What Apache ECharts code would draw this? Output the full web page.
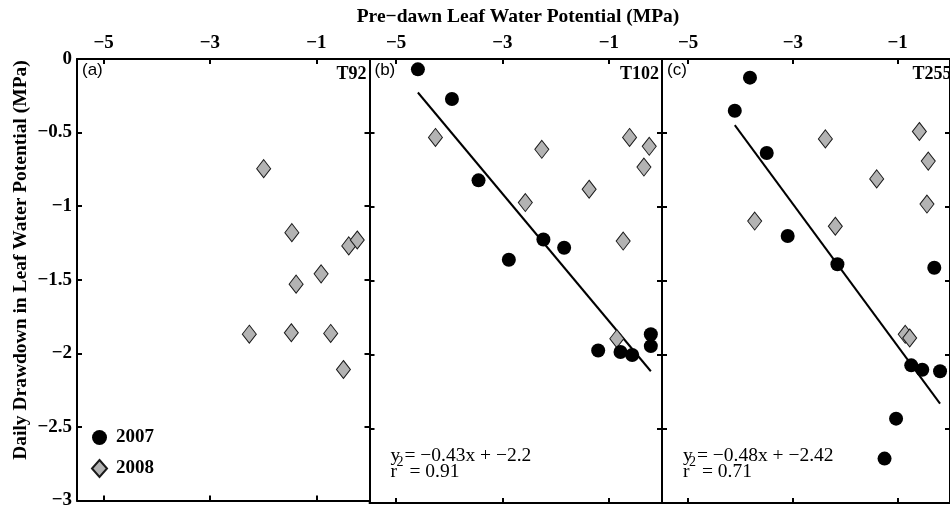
<!DOCTYPE html>
<html>
<head>
<meta charset="utf-8">
<script src="https://cdn.jsdelivr.net/npm/echarts@6/dist/echarts.min.js"></script>
<style>html,body{margin:0;padding:0;background:#fff;}#c{width:950px;height:510px;}</style>
</head>
<body>
<div id="c"></div>
<script>
// ---- data ----
const panelNames = ['(a)', '(b)', '(c)'];
const siteNames = ['T92', 'T102', 'T255'];
const xTickValues = [-5, -3, -1];
const yTickValues = [0, -0.5, -1, -1.5, -2, -2.5, -3];

const a2007x = [];
const a2007y = [];
const a2008x = [-1.99, -1.46, -0.39, -0.23, -0.91, -1.38, -2.26, -1.47, -0.73, -0.49];
const a2008y = [-0.745, -1.18, -1.27, -1.23, -1.46, -1.53, -1.87, -1.86, -1.865, -2.11];

const b2007x = [-4.59, -3.95, -3.45, -2.88, -2.23, -1.84, -1.20, -0.78, -0.56, -0.21, -0.21];
const b2007y = [-0.07, -0.27, -0.82, -1.356, -1.22, -1.275, -1.97, -1.98, -2.0, -1.86, -1.94];
const b2008x = [-4.26, -2.26, -0.61, -0.24, -0.34, -1.37, -2.57, -0.73, -0.85];
const b2008y = [-0.53, -0.61, -0.53, -0.59, -0.73, -0.88, -0.97, -1.23, -1.89];

const c2007x = [-3.82, -4.11, -3.50, -3.10, -2.15, -0.30, -0.74, -0.53, -0.19, -1.03, -1.25];
const c2007y = [-0.126, -0.35, -0.635, -1.196, -1.387, -1.41, -2.07, -2.10, -2.11, -2.43, -2.70];
const c2008x = [-3.73, -2.38, -2.19, -1.40, -0.585, -0.415, -0.44, -0.855, -0.77];
const c2008y = [-1.095, -0.54, -1.13, -0.81, -0.49, -0.69, -0.98, -1.86, -1.885];

const fitSlope = [null, -0.43, -0.48];
const fitIntercept = [null, -2.2, -2.42];
const fitR2 = [null, '0.91', '0.71'];

// ---- layout ----
const SERIF = 'Liberation Serif';
const SANS = 'Liberation Sans';
const gridLefts = [77, 369.5, 662];
const gridW = 292.5, gridTop = 59, gridH = 444;

const minus = v => (v < 0 ? '\u2212' + String(Math.abs(v)) : String(v));
const zip = (xs, ys) => xs.map((x, i) => [x, ys[i]]);

const sets = [
  { x7: a2007x, y7: a2007y, x8: a2008x, y8: a2008y },
  { x7: b2007x, y7: b2007y, x8: b2008x, y8: b2008y },
  { x7: c2007x, y7: c2007y, x8: c2008x, y8: c2008y }
];

const grids = [], xAxes = [], yAxes = [], series = [], graphics = [];
const axLine = { show: true, onZero: false, lineStyle: { color: '#000', width: 2 } };
const tickStyle = { color: '#000', width: 2 };
const labelFont = { color: '#000', fontFamily: SERIF, fontWeight: 'bold', fontSize: 19 };
const EQF = '19.5px "' + SERIF + '"';

gridLefts.forEach((left, i) => {
  grids.push({ left: left, top: gridTop, width: gridW, height: gridH, containLabel: false });
  xAxes.push({
    type: 'value', gridIndex: i, position: 'top', min: -5.5, max: 0,
    axisLine: axLine, splitLine: { show: false },
    axisTick: { show: true, inside: true, length: 5, customValues: xTickValues, lineStyle: tickStyle },
    axisLabel: Object.assign({ show: true, margin: 6, customValues: xTickValues, formatter: minus }, labelFont)
  });
  xAxes.push({
    type: 'value', gridIndex: i, position: 'bottom', min: -5.5, max: 0,
    axisLine: axLine, splitLine: { show: false },
    axisTick: { show: true, inside: true, length: 5, customValues: xTickValues, lineStyle: tickStyle },
    axisLabel: { show: false }
  });
  yAxes.push({
    type: 'value', gridIndex: i, position: 'left', min: -3, max: 0, interval: 0.5,
    axisLine: axLine, splitLine: { show: false },
    axisTick: { show: true, inside: true, length: 5, lineStyle: tickStyle },
    axisLabel: Object.assign({ show: i === 0, margin: 5, formatter: minus }, labelFont)
  });
  yAxes.push({
    type: 'value', gridIndex: i, position: 'right', min: -3, max: 0, interval: 0.5,
    axisLine: axLine, splitLine: { show: false },
    axisTick: { show: true, inside: true, length: 5, lineStyle: tickStyle },
    axisLabel: { show: false }
  });

  const s = sets[i];
  series.push({
    name: '2007', type: 'scatter', xAxisIndex: 2 * i, yAxisIndex: 2 * i,
    symbol: 'circle', symbolSize: 14,
    itemStyle: { color: '#000', borderColor: '#000', borderWidth: 0, opacity: 1 },
    data: zip(s.x7, s.y7), z: 3
  });
  series.push({
    name: '2008', type: 'scatter', xAxisIndex: 2 * i, yAxisIndex: 2 * i,
    symbol: 'diamond', symbolSize: [14, 18],
    itemStyle: { color: '#b3b3b3', borderColor: '#1a1a1a', borderWidth: 1, opacity: 1 },
    data: zip(s.x8, s.y8), z: 2
  });
  if (fitSlope[i] !== null) {
    const xmin = Math.min.apply(null, s.x7), xmax = Math.max.apply(null, s.x7);
    const m = fitSlope[i], b = fitIntercept[i];
    series.push({
      name: 'fit' + i, type: 'line', xAxisIndex: 2 * i, yAxisIndex: 2 * i,
      symbol: 'none', lineStyle: { color: '#000', width: 2 },
      data: [[xmin, m * xmin + b], [xmax, m * xmax + b]], z: 1
    });
    const ex = left + 21;
    graphics.push({ type: 'text', left: ex, top: 446, style: { text: 'y', font: EQF, fill: '#000' } });
    graphics.push({ type: 'text', left: ex + 6, top: 455, style: { text: '2', font: '14px "' + SERIF + '"', fill: '#000' } });
    graphics.push({ type: 'text', left: ex + 14, top: 446, style: { text: '= ' + minus(m) + 'x + ' + minus(b), font: EQF, fill: '#000' } });
    graphics.push({ type: 'text', left: ex, top: 462, style: { text: 'r', font: EQF, fill: '#000' } });
    graphics.push({ type: 'text', left: ex + 19, top: 462, style: { text: '= ' + fitR2[i], font: EQF, fill: '#000' } });
  }
  graphics.push({ type: 'text', x: left + 5, y: 70, style: { text: panelNames[i], font: '17px "' + SANS + '"', fill: '#000', textAlign: 'left', textVerticalAlign: 'middle' } });
  graphics.push({ type: 'text', x: left + gridW - 3, y: 74, style: { text: siteNames[i], font: 'bold 18px "' + SERIF + '"', fill: '#000', textAlign: 'right', textVerticalAlign: 'middle' } });
});

graphics.push({ type: 'text', x: 518, y: 17, style: { text: 'Pre\u2212dawn Leaf Water Potential (MPa)', font: 'bold 19.5px "' + SERIF + '"', fill: '#000', textAlign: 'center', textVerticalAlign: 'middle' } });
graphics.push({ type: 'text', x: 21, y: 260, rotation: Math.PI / 2, style: { text: 'Daily Drawdown in Leaf Water Potential (MPa)', font: 'bold 19.5px "' + SERIF + '"', fill: '#000', textAlign: 'center', textVerticalAlign: 'middle' } });

const chart = echarts.init(document.getElementById('c'), null, { renderer: 'canvas' });
chart.setOption({
  animation: false,
  backgroundColor: '#fff',
  grid: grids,
  xAxis: xAxes,
  yAxis: yAxes,
  legend: {
    data: ['2007', '2008'], orient: 'vertical', left: 91, top: 428, padding: 0,
    itemWidth: 15, itemHeight: 17, itemGap: 12, selectedMode: false,
    textStyle: { color: '#000', fontFamily: SERIF, fontWeight: 'bold', fontSize: 19, padding: [0, 0, 0, 4] }
  },
  series: series,
  graphic: graphics
});
</script>
</body>
</html>
